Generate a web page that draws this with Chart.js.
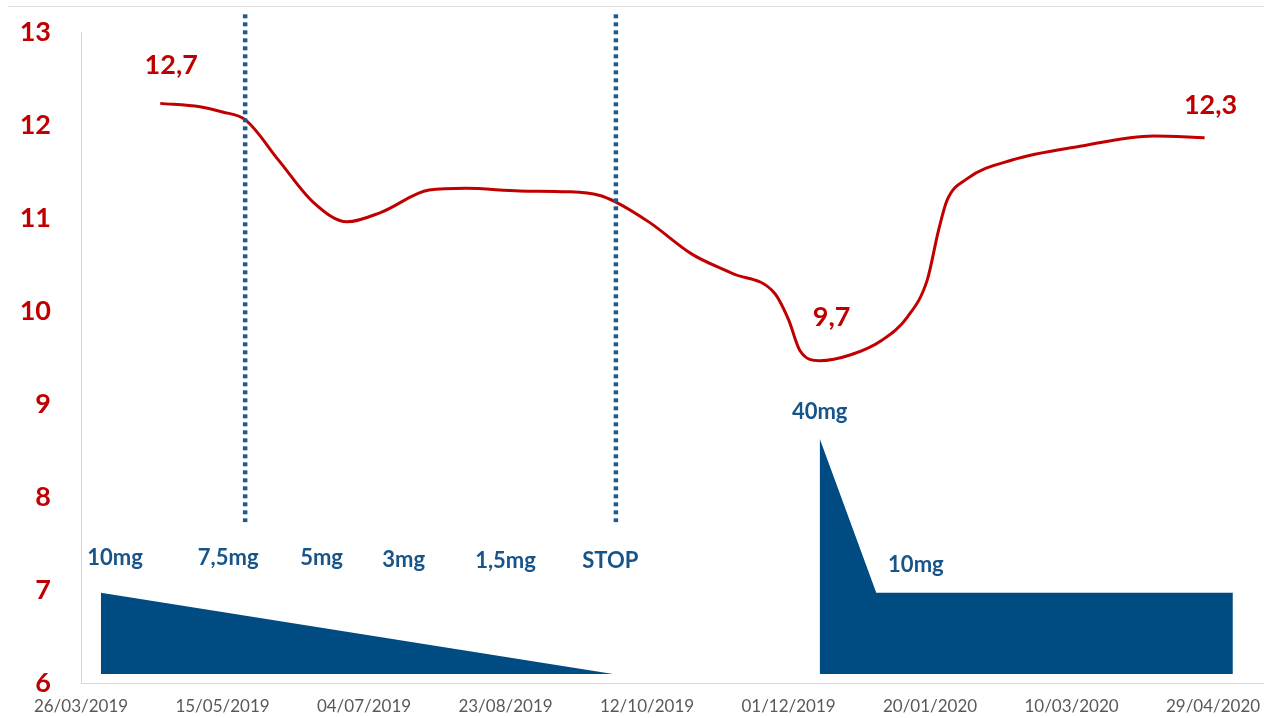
<!DOCTYPE html>
<html>
<head>
<meta charset="utf-8">
<title>Évolution et posologie</title>
<script src="https://cdn.jsdelivr.net/npm/chart.js@4/dist/chart.umd.min.js"></script>
<style>
  html, body { margin: 0; padding: 0; background: #ffffff; }
  #wrap { width: 1264px; height: 718px; }
</style>
</head>
<body>
<div id="wrap"><canvas id="chart" width="1264" height="718"></canvas></div>
<script>
// ---- Data -------------------------------------------------------------

// Date axis ticks (every 50 days)
const tickDates = ['2019-03-26', '2019-05-15', '2019-07-04', '2019-08-23', '2019-10-12',
                   '2019-12-01', '2020-01-20', '2020-03-10', '2020-04-29'];

// Left axis ticks
const levelTicks = [6, 7, 8, 9, 10, 11, 12, 13];

// Measured level over time
const levelDates = ['2019-04-23', '2019-05-07', '2019-05-15', '2019-05-23', '2019-06-04', '2019-06-16',
                    '2019-06-28', '2019-07-10', '2019-07-27', '2019-08-09', '2019-08-28', '2019-09-14',
                    '2019-09-25', '2019-10-01', '2019-10-13', '2019-10-28', '2019-11-11', '2019-11-26',
                    '2019-12-01', '2019-12-05', '2019-12-12', '2019-12-23', '2020-01-03', '2020-01-12',
                    '2020-01-19', '2020-01-23', '2020-01-26', '2020-02-02', '2020-02-18', '2020-03-13',
                    '2020-04-08', '2020-04-26'];
const levelValues = [12.70, 12.66, 12.60, 12.51, 12.03, 11.55,
                     11.32, 11.43, 11.69, 11.71, 11.68, 11.67,
                     11.63, 11.55, 11.31, 10.94, 10.72, 10.49,
                     10.18, 9.82, 9.70, 9.77, 9.94, 10.21,
                     10.64, 11.22, 11.57, 11.82, 12.04, 12.20,
                     12.32, 12.30];
// Points whose value is written next to the curve
const labeledPoints = [0, 20, 31];

// First course: tapering dose (mg/day)
const taperDates = ['2019-04-02', '2019-09-30'];
const taperDoses = [10, 0];

// Second course: loading dose then maintenance (mg/day)
const secondDates = ['2019-12-12', '2020-01-01', '2020-05-06'];
const secondDoses = [40, 10, 10];

// Dose step annotations
const doseLabelDates = ['2019-04-07', '2019-05-17', '2019-06-19', '2019-07-18',
                        '2019-08-23', '2019-09-29', '2019-12-12', '2020-01-15'];
const doseLabelTexts = ['10mg', '7,5mg', '5mg', '3mg', '1,5mg', 'STOP', '40mg', '10mg'];

// Dose change markers (dotted verticals)
const markerDates = ['2019-05-23', '2019-10-01'];

// ---- Helpers ----------------------------------------------------------

const BASE = Date.UTC(2019, 2, 26);
function dayOf(s) {
  const [y, m, d] = s.split('-').map(Number);
  return Math.round((Date.UTC(y, m - 1, d) - BASE) / 86400000);
}
function frDate(s) {
  const [y, m, d] = s.split('-');
  return d + '/' + m + '/' + y;
}
function frNum(v) {
  return v.toFixed(1).replace('.', ',');
}

// Dose axis: power-law scale so that the loading dose stays compact
const DOSE_EXPONENT = 0.768;
class PowerScale extends Chart.LinearScale {
  _tf(v) { return Math.sign(v) * Math.pow(Math.abs(v), DOSE_EXPONENT); }
  getPixelForValue(value) {
    if (value === null || value === undefined || isNaN(value)) return NaN;
    const a = this._tf(this.min), b = this._tf(this.max);
    return this.getPixelForDecimal((this._tf(value) - a) / (b - a));
  }
  getValueForPixel(pixel) {
    const a = this._tf(this.min), b = this._tf(this.max);
    const t = a + this.getDecimalForPixel(pixel) * (b - a);
    return Math.sign(t) * Math.pow(Math.abs(t), 1 / DOSE_EXPONENT);
  }
}
PowerScale.id = 'power';
PowerScale.defaults = Chart.LinearScale.defaults;
Chart.register(PowerScale);

// ---- Styling ----------------------------------------------------------

const RED = '#C00000';
const NAVY = '#004B82';
const DOSE_TEXT = '#17548A';
const AXIS_LINE = '#D6D6D6';

const MARKER_TOP = 13.19;      // in left-axis units
const MARKER_BOTTOM = 7.73;
const VALUE_LABEL_OFFSETS = [[11, -38], [12, -43], [6, -32]];
const DOSE_LABEL_LEVELS = [7.34, 7.34, 7.34, 7.32, 7.31, 7.31, 8.91, 7.27];

Chart.defaults.font.family = 'Lato, "Open Sans", sans-serif';

const textPlugin = {
  id: 'chartText',
  beforeDraw(chart) {
    const c = chart.ctx;
    c.save();
    c.strokeStyle = '#DCDCDC';
    c.lineWidth = 1;
    c.beginPath();
    c.moveTo(8, 6.5);
    c.lineTo(chart.width, 6.5);
    c.stroke();
    c.restore();
  },
  afterDatasetsDraw(chart) {
    const c = chart.ctx;
    const xs = chart.scales.x, ys = chart.scales.y;
    c.save();
    c.textAlign = 'center';
    c.textBaseline = 'middle';

    // values written next to the curve
    c.fillStyle = RED;
    c.font = 'bold 27px Lato, "Open Sans", sans-serif';
    const meta = chart.getDatasetMeta(chart.data.datasets.findIndex(d => d.id === 'level'));
    labeledPoints.forEach((idx, k) => {
      const p = meta.data[idx];
      c.fillText(frNum(levelValues[idx]), p.x + VALUE_LABEL_OFFSETS[k][0], p.y + VALUE_LABEL_OFFSETS[k][1]);
    });

    // dose annotations
    c.fillStyle = DOSE_TEXT;
    c.font = 'bold 22px Lato, "Open Sans", sans-serif';
    doseLabelTexts.forEach((t, i) => {
      c.fillText(t, xs.getPixelForValue(dayOf(doseLabelDates[i])), ys.getPixelForValue(DOSE_LABEL_LEVELS[i]));
    });
    c.restore();
  }
};

// ---- Datasets ---------------------------------------------------------

const markerSets = markerDates.map(d => ({
  id: 'marker',
  data: [{ x: dayOf(d), y: MARKER_TOP }, { x: dayOf(d), y: MARKER_BOTTOM }],
  yAxisID: 'y',
  borderColor: '#1B5A8F',
  borderWidth: 4.5,
  borderDash: [4, 4],
  borderCapStyle: 'butt',
  pointRadius: 0,
  tension: 0,
  fill: false,
  clip: false,
  order: 0
}));

const levelSet = {
  id: 'level',
  data: levelDates.map((d, i) => ({ x: dayOf(d), y: levelValues[i] })),
  yAxisID: 'y2',
  borderColor: RED,
  borderWidth: 3,
  pointRadius: 0,
  cubicInterpolationMode: 'monotone',
  fill: false,
  order: 1
};

const doseSet = (dates, doses) => ({
  id: 'dose',
  data: dates.map((d, i) => ({ x: dayOf(d), y: doses[i] })),
  yAxisID: 'y3',
  borderColor: NAVY,
  borderWidth: 0,
  backgroundColor: NAVY,
  pointRadius: 0,
  tension: 0,
  fill: 'origin',
  order: 2
});

// ---- Chart ------------------------------------------------------------

new Chart(document.getElementById('chart'), {
  type: 'line',
  data: {
    datasets: [...markerSets, levelSet, doseSet(taperDates, taperDoses), doseSet(secondDates, secondDoses)]
  },
  options: {
    responsive: false,
    devicePixelRatio: 1,
    animation: false,
    layout: { padding: { top: 32, right: 0, bottom: 0, left: 0 } },
    plugins: {
      legend: { display: false },
      tooltip: { enabled: false }
    },
    scales: {
      x: {
        type: 'linear',
        position: 'bottom',
        min: 0,
        max: 418,
        grid: { display: false, drawTicks: false },
        border: { display: true, color: AXIS_LINE, width: 1 },
        afterBuildTicks: s => { s.ticks = tickDates.map(d => ({ value: dayOf(d) })); },
        afterFit: s => { s.height = 35; s.paddingLeft = 0; s.paddingRight = 0; },
        ticks: {
          autoSkip: false,
          maxRotation: 0,
          padding: 13,
          color: '#595959',
          font: { size: 17 },
          callback: (v, i) => frDate(tickDates[i])
        }
      },
      y: {
        type: 'linear',
        position: 'left',
        min: 6,
        max: 13,
        grid: { display: false, drawTicks: false },
        border: { display: true, color: AXIS_LINE, width: 1 },
        afterBuildTicks: s => { s.ticks = levelTicks.map(v => ({ value: v })); },
        afterFit: s => { s.width = 81; s.paddingTop = 0; s.paddingBottom = 0; },
        ticks: {
          padding: 30,
          color: RED,
          font: { size: 27, weight: 'bold' },
          callback: v => String(v)
        }
      },
      y2: {
        type: 'linear',
        display: false,
        min: 5.944,
        max: 13.532
      },
      y3: {
        type: 'power',
        display: false,
        min: -0.57,
        max: 147.7
      }
    }
  },
  plugins: [textPlugin]
});
</script>
</body>
</html>
